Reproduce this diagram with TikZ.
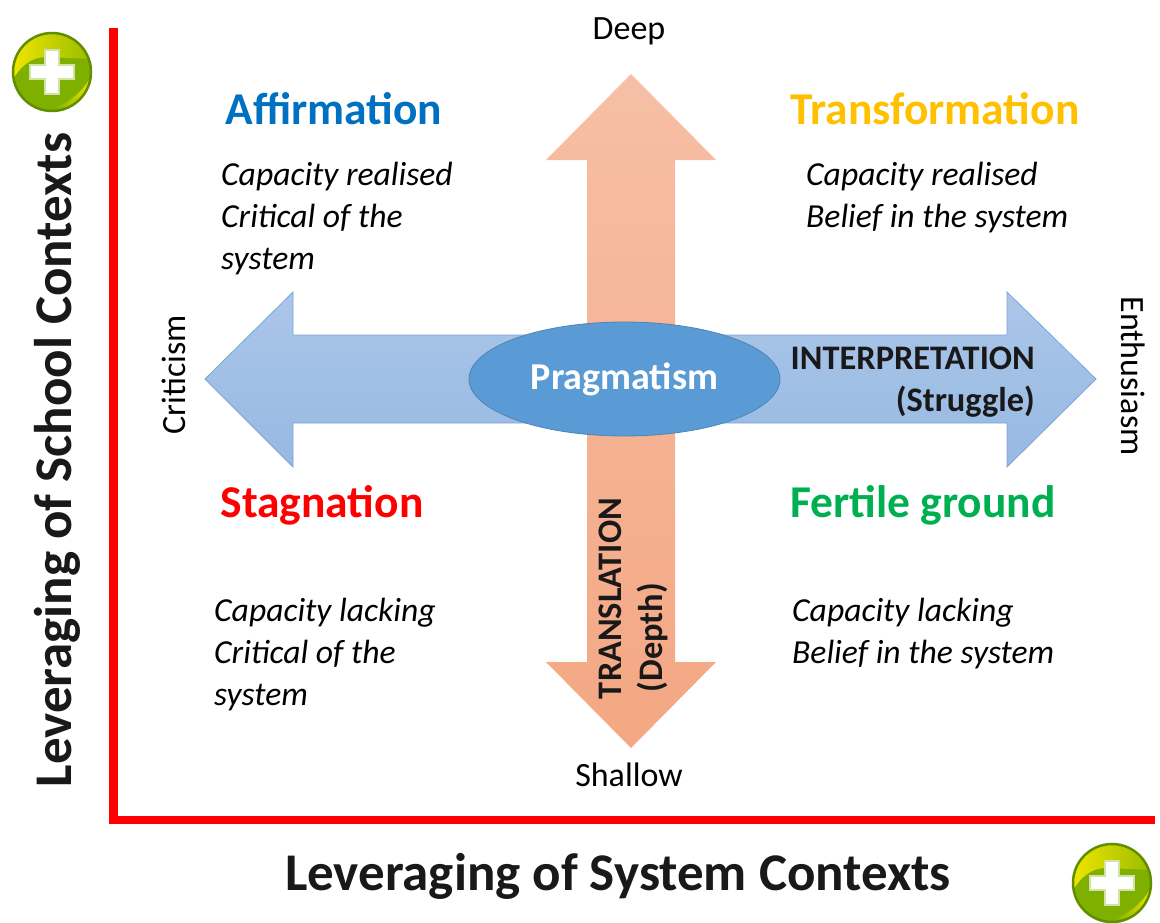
\documentclass[tikz,border=0pt]{standalone}
\usepackage{fontspec}
\setmainfont{Carlito}
\usetikzlibrary{shapes.geometric, positioning}

\definecolor{axisred}{HTML}{FF0000}
\definecolor{hblue}{HTML}{ABC6E9}
\definecolor{hbluedark}{HTML}{96B9E2}
\definecolor{hblueline}{HTML}{7BA5D8}
\definecolor{vorange}{HTML}{F6BFA5}
\definecolor{vorangedark}{HTML}{F4A783}
\definecolor{ellblue}{HTML}{5B9BD5}
\definecolor{plusrim}{HTML}{5F8F00}
\definecolor{plusgreen}{HTML}{7FB000}
\definecolor{plusyellow}{HTML}{F2E600}
\definecolor{titleblue}{HTML}{0070C0}
\definecolor{titlegold}{HTML}{FFC000}
\definecolor{titlegreen}{HTML}{00B050}

\tikzset{
  quadtitle/.style={font=\bfseries\fontsize{45.5}{48}\selectfont, inner sep=0pt},
  quadbody/.style={font=\itshape\fontsize{33.6}{42}\selectfont, align=left, anchor=north west, inner sep=0pt},
  endlabel/.style={font=\fontsize{34}{38}\selectfont, inner sep=0pt},
  axislabel/.style={font=\bfseries\fontsize{53}{58}\selectfont, text=black!90, inner sep=0pt},
  arrowlabel/.style={font=\bfseries\fontsize{34.4}{42}\selectfont, text=black!90, inner sep=0pt},
  plusicon/.style={circle, minimum size=78pt, inner sep=0pt, fill=plusgreen, draw=plusrim, line width=2.5pt,
    path picture={
      \begin{scope}[shift={(path picture bounding box.center)}]
        \shade[left color=plusyellow, right color=plusgreen!80!plusyellow]
          (-41,10) .. controls (-30,-8) and (-20,-15) .. (-5,-15) -- (41,-13) -- (41,-41) -- (-41,-41) -- cycle;
        \shade[left color=plusgreen, right color=plusyellow]
          (2,36) .. controls (15,32) and (30,20) .. (37,8) -- (41,41) -- (2,41) -- cycle;
        \fill[white, draw=white!65!plusgreen, line width=1.2pt] (-22,-7) -- (-7,-7) -- (-7,-22) -- (7,-22) -- (7,-7) -- (22,-7)
          -- (22,7) -- (7,7) -- (7,22) -- (-7,22) -- (-7,7) -- (-22,7) -- cycle;
      \end{scope}
    }},
}

\begin{document}
\begin{tikzpicture}[x=1pt, y=-1pt]
  \useasboundingbox (0,0) rectangle (1160,922);

  % Ejes
  \coordinate (axistop) at (113.5,28);
  \coordinate (axiscorner) at (113.5,820);
  \coordinate (axisend) at (1155,820);
  \draw[axisred, line width=8.5pt] (axistop) -- (axiscorner) -- (axisend);
  \node[plusicon] (plusleft) at (52,72) {};
  \node[plusicon] (plusright) at (1112,883) {};
  \node[axislabel, rotate=90] (schoolaxis) at (57,460) {Leveraging of School Contexts};
  \node[axislabel] (systemaxis) at (618,876) {Leveraging of System Contexts};

  % Flechas y elipse
  \shade[top color=vorange, bottom color=vorangedark]
    (631,74) -- (716,160) -- (675,160) -- (675,662) -- (716,662) -- (631,748)
    -- (546,662) -- (587,662) -- (587,160) -- (546,160) -- cycle;
  \draw[top color=hblue, bottom color=hbluedark, draw=hblueline, line width=0.8pt]
    (205,379) -- (293,292) -- (293,335) -- (1007,335) -- (1007,292) -- (1096,379)
    -- (1007,467) -- (1007,423) -- (293,423) -- (293,467) -- cycle;
  \node[ellipse, minimum width=311pt, minimum height=114pt, inner sep=0pt, fill=ellblue, draw=ellblue!85!black, line width=0.8pt,
    text=white, font=\bfseries\fontsize{38}{42}\selectfont] (pragmatism) at (624.5,379) {\raisebox{-2pt}{Pragmatism}};

  % Etiquetas de las flechas
  \node[arrowlabel, align=right, anchor=east] (interpretation) at (1035,382) {INTERPRETATION\\(Struggle)};
  \node[arrowlabel, rotate=90] (translation) at (610,598.5) {TRANSLATION};
  \node[arrowlabel, rotate=90] (depth) at (652,637.5) {(Depth)};
  \node[endlabel] (deep) at (629,31) {Deep};
  \node[endlabel] (shallow) at (629,775) {Shallow};
  \node[endlabel, rotate=90] (criticism) at (174,375) {Criticism};
  \node[endlabel, rotate=-90] (enthusiasm) at (1133,376) {Enthusiasm};

  % Cuadrantes
  \node[quadtitle, text=titleblue] (affirmation) at (334,109) {Affirmation};
  \node[quadtitle, text=titlegold] (transformation) at (935,109) {Transformation};
  \node[quadtitle, text=axisred] (stagnation) at (322,505) {Stagnation};
  \node[quadtitle, text=titlegreen] (fertile) at (923,505) {Fertile ground};
  \node[quadbody] (affirmationtext) at (221,162) {Capacity realised\\Critical of the\\system};
  \node[quadbody] (transformationtext) at (806,162) {Capacity realised\\Belief in the system};
  \node[quadbody] (stagnationtext) at (214,598) {Capacity lacking\\Critical of the\\system};
  \node[quadbody] (fertiletext) at (792,598) {Capacity lacking\\Belief in the system};
\end{tikzpicture}
\end{document}
